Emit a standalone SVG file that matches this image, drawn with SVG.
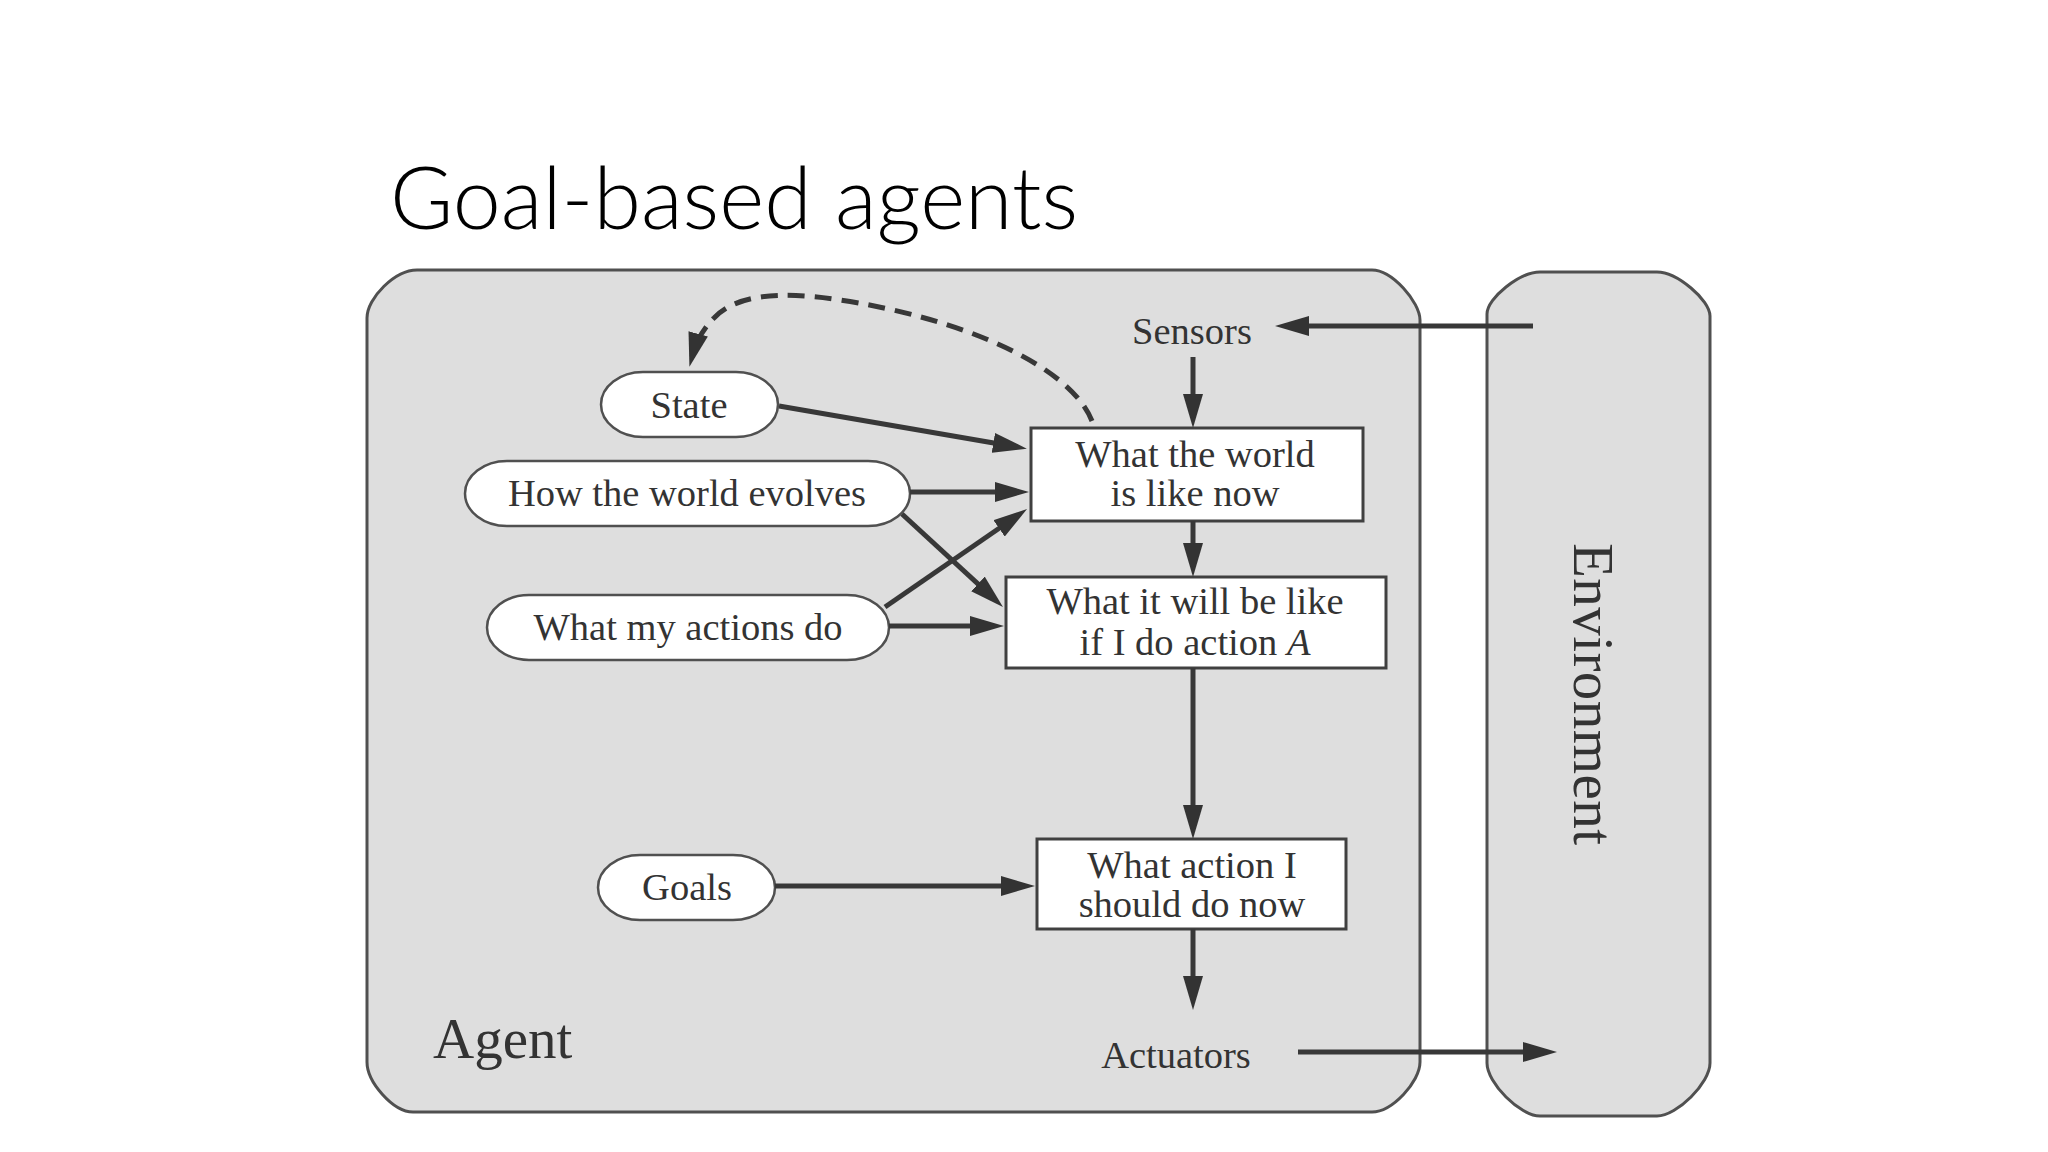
<svg xmlns="http://www.w3.org/2000/svg" width="2048" height="1152" viewBox="0 0 2048 1152">
  <defs>
    <style>
      .title { font-family: Lato, "Open Sans", "Liberation Sans", sans-serif; font-weight: 300; font-size: 86px; fill: #000; }
      .frame { fill: #dedede; stroke: #505050; stroke-width: 3; }
      .box { fill: #ffffff; stroke: #404040; stroke-width: 3; }
      .oval { fill: #ffffff; stroke: #505050; stroke-width: 2.5; }
      .lbl { font-family: "Liberation Serif", "Times New Roman", serif; font-size: 38.5px; fill: #333; text-anchor: middle; }
      .big { font-family: "Liberation Serif", "Times New Roman", serif; font-size: 57px; fill: #333; }
      .conn { fill: none; stroke: #383838; stroke-width: 5; marker-end: url(#ah); }
      .dash { fill: none; stroke: #383838; stroke-width: 5; stroke-dasharray: 17 10; marker-end: url(#ah); }
    </style>
    <marker id="ah" viewBox="0 0 34 20" markerWidth="34" markerHeight="20" refX="24" refY="10" orient="auto" markerUnits="userSpaceOnUse">
      <path d="M0,0 L34,10 L0,20 z" fill="#333"/>
    </marker>
  </defs>

  <rect x="0" y="0" width="2048" height="1152" fill="#ffffff"/>

  <text class="title" x="390" y="229" textLength="688" lengthAdjust="spacingAndGlyphs">Goal-based agents</text>

  <g id="agent">
    <path class="frame" d="M417,270 L1372,270 C1392,270 1420,302 1420,320 L1420,1062 C1420,1082 1392,1112 1372,1112 L413,1112 C393,1112 367,1082 367,1062 L367,318 C367,298 395,270 417,270 Z"/>
    <text class="big" x="433" y="1058">Agent</text>
  </g>

  <g id="environment">
    <path class="frame" d="M1540,272 L1657,272 C1677,272 1710,300 1710,316 L1710,1063 C1710,1083 1677,1116 1657,1116 L1540,1116 C1520,1116 1487,1083 1487,1063 L1487,314 C1487,298 1520,272 1540,272 Z"/>
    <text class="big" x="0" y="0" transform="translate(1574,694) rotate(90)" text-anchor="middle" font-size="60" textLength="302" lengthAdjust="spacing">Environment</text>
  </g>

  <g id="sensors">
    <text class="lbl" x="1192" y="344">Sensors</text>
  </g>
  <g id="actuators">
    <text class="lbl" x="1176" y="1068">Actuators</text>
  </g>

  <g id="state">
    <rect class="oval" x="601" y="372" width="177" height="65" rx="42" ry="32.5"/>
    <text class="lbl" x="689" y="418">State</text>
  </g>
  <g id="world-evolves">
    <rect class="oval" x="465" y="461" width="445" height="65" rx="42" ry="32.5"/>
    <text class="lbl" x="687" y="506">How the world evolves</text>
  </g>
  <g id="actions-do">
    <rect class="oval" x="487" y="595" width="402" height="65" rx="42" ry="32.5"/>
    <text class="lbl" x="688" y="640">What my actions do</text>
  </g>
  <g id="goals">
    <rect class="oval" x="598" y="855" width="177" height="65" rx="42" ry="32.5"/>
    <text class="lbl" x="687" y="900">Goals</text>
  </g>

  <g id="world-now">
    <rect class="box" x="1031" y="428" width="332" height="93"/>
    <text class="lbl" x="1195" y="467">What the world</text>
    <text class="lbl" x="1195" y="506">is like now</text>
  </g>
  <g id="will-be-like">
    <rect class="box" x="1006" y="577" width="380" height="91"/>
    <text class="lbl" x="1195" y="614">What it will be like</text>
    <text class="lbl" x="1195" y="655">if I do action <tspan font-style="italic">A</tspan></text>
  </g>
  <g id="action-now">
    <rect class="box" x="1037" y="839" width="309" height="90"/>
    <text class="lbl" x="1192" y="878">What action I</text>
    <text class="lbl" x="1192" y="917">should do now</text>
  </g>

  <g id="connectors">
    <path class="conn" d="M1533,326 L1285,326"/>
    <path class="conn" d="M1193,357 L1193,418"/>
    <path class="conn" d="M1193,521 L1193,567"/>
    <path class="conn" d="M1193,668 L1193,829"/>
    <path class="conn" d="M1193,929 L1193,1000"/>
    <path class="conn" d="M1298,1052 L1547,1052"/>
    <path class="conn" d="M779,406 L1017,447"/>
    <path class="conn" d="M910,492 L1019,492"/>
    <path class="conn" d="M902,514 L995.6,600.2"/>
    <path class="conn" d="M885,607 L1018.8,514.7"/>
    <path class="conn" d="M889,626 L994,626"/>
    <path class="conn" d="M775,886 L1025,886"/>
    <path class="dash" d="M1092,421 C1070,365 960,318 840,300 C775,290 735,296 714,318 C702,330 696,342 692,357"/>
  </g>
</svg>
